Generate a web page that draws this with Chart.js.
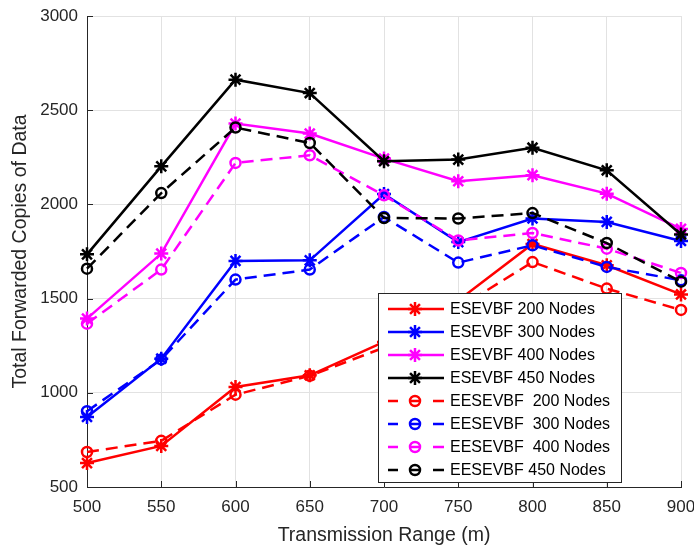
<!DOCTYPE html>
<html>
<head>
<meta charset="utf-8">
<script src="https://cdn.jsdelivr.net/npm/chart.js@4.4.0/dist/chart.umd.min.js"></script>
<style>
  body { margin: 0; background: #fff; }
  canvas { display: block; }
</style>
</head>
<body>
<canvas id="myChart" width="694" height="547"></canvas>
<script>
const FONT = "'Liberation Sans', Arial, sans-serif";
const AXIS_COLOR = '#262626';

const RANGES = ['500', '550', '600', '650', '700', '750', '800', '850', '900'];
const Y_TICKS = [500, 1000, 1500, 2000, 2500, 3000];

const ESEVBF_200 = [627, 718, 1031, 1093, 1270, 1490, 1790, 1677, 1522];
const ESEVBF_300 = [872, 1181, 1700, 1703, 2055, 1800, 1925, 1907, 1806];
const ESEVBF_400 = [1394, 1739, 2429, 2376, 2243, 2123, 2155, 2057, 1870];
const ESEVBF_450 = [1735, 2202, 2662, 2591, 2229, 2238, 2301, 2181, 1840];
const EESEVBF_200 = [686, 745, 990, 1090, 1240, 1450, 1694, 1553, 1440];
const EESEVBF_300 = [902, 1177, 1601, 1654, 1933, 1691, 1783, 1668, 1597];
const EESEVBF_400 = [1367, 1654, 2220, 2261, 2048, 1809, 1848, 1765, 1636];
const EESEVBF_450 = [1659, 2060, 2408, 2326, 1928, 1925, 1954, 1795, 1590];

function serie(label, data, color, dashed, i) {
    return {
        label: label,
        data: data,
        borderColor: color,
        backgroundColor: color,
        borderWidth: 2.5,
        borderDash: dashed ? [12, 7] : [],
        pointStyle: dashed ? 'circle' : 'star',
        pointRadius: dashed ? 5 : 7,
        pointBorderWidth: 2.5,
        pointBorderColor: color,
        pointBackgroundColor: 'rgba(0,0,0,0)',
        tension: 0,
        clip: false,
        order: 8 - i // later series on top, like matlab
    };
}

// inward tick marks, matlab style
const ticksHaciaDentro = {
    id: 'ticksHaciaDentro',
    afterDatasetsDraw(chart) {
        const c = chart.ctx;
        const area = chart.chartArea;
        const x = chart.scales.x, y = chart.scales.y;
        c.save();
        c.strokeStyle = AXIS_COLOR;
        c.lineWidth = 1;
        c.beginPath();
        for (let i = 0; i < RANGES.length; i++) {
            const px = Math.round(x.getPixelForValue(i)) + 0.5;
            c.moveTo(px, area.bottom);
            c.lineTo(px, area.bottom - 6);
        }
        Y_TICKS.forEach(function (v) {
            const py = Math.round(y.getPixelForValue(v)) + 0.5;
            c.moveTo(area.left, py);
            c.lineTo(area.left + 6, py);
        });
        c.stroke();
        c.restore();
    }
};

// legend box inside the plot, lower right
const leyenda = {
    id: 'leyenda',
    afterDraw(chart) {
        const c = chart.ctx;
        const box = { x: 378.5, y: 293.5, w: 243, h: 189 };
        c.save();
        c.fillStyle = '#ffffff';
        c.fillRect(box.x, box.y, box.w, box.h);
        c.strokeStyle = AXIS_COLOR;
        c.lineWidth = 1;
        c.strokeRect(box.x, box.y, box.w, box.h);

        chart.data.datasets.forEach(function (ds, i) {
            const cy = 309 + i * 23;
            c.strokeStyle = ds.borderColor;
            c.lineWidth = 2.5;
            c.beginPath();
            if (ds.borderDash.length) {
                c.moveTo(388, cy); c.lineTo(398, cy);
                c.moveTo(410, cy); c.lineTo(420, cy);
                c.moveTo(433, cy); c.lineTo(444, cy);
            } else {
                c.moveTo(388, cy); c.lineTo(444, cy);
            }
            c.stroke();
            c.lineWidth = 2.5;
            c.fillStyle = 'rgba(0,0,0,0)';
            Chart.helpers.drawPoint(c, {
                pointStyle: ds.pointStyle,
                radius: ds.pointRadius,
                borderWidth: 2.5,
                rotation: 0
            }, 415, cy);
            c.fillStyle = '#000000';
            c.font = '16px ' + FONT;
            c.textAlign = 'left';
            c.textBaseline = 'middle';
            c.fillText(ds.label, 450, cy + 1);
        });
        c.restore();
    }
};

var ctx = document.getElementById('myChart').getContext('2d');

var myChart = new Chart(ctx, {
    type: 'line',
    data: {
        labels: RANGES,
        datasets: [
            serie('ESEVBF 200 Nodes', ESEVBF_200, '#ff0000', false, 0),
            serie('ESEVBF 300 Nodes', ESEVBF_300, '#0000ff', false, 1),
            serie('ESEVBF 400 Nodes', ESEVBF_400, '#ff00ff', false, 2),
            serie('ESEVBF 450 Nodes', ESEVBF_450, '#000000', false, 3),
            serie('EESEVBF  200 Nodes', EESEVBF_200, '#ff0000', true, 4),
            serie('EESEVBF  300 Nodes', EESEVBF_300, '#0000ff', true, 5),
            serie('EESEVBF  400 Nodes', EESEVBF_400, '#ff00ff', true, 6),
            serie('EESEVBF 450 Nodes', EESEVBF_450, '#000000', true, 7)
        ]
    },
    options: {
        responsive: false,
        animation: false,
        layout: {
            padding: { top: 16, right: 13, left: 0, bottom: 0 }
        },
        plugins: {
            legend: { display: false },
            tooltip: { enabled: false }
        },
        scales: {
            x: {
                offset: false,
                afterFit(scale) {
                    scale.height = 60;
                    scale.paddingLeft = 0;
                    scale.paddingRight = 0;
                },
                ticks: {
                    color: AXIS_COLOR,
                    font: { family: FONT, size: 17 },
                    padding: 10,
                    maxRotation: 0
                },
                grid: {
                    color: '#e2e2e2',
                    lineWidth: 1,
                    drawTicks: false
                },
                border: { display: true, color: AXIS_COLOR, width: 1 },
                title: {
                    display: true,
                    text: 'Transmission Range (m)',
                    color: AXIS_COLOR,
                    font: { family: FONT, size: 19.5 },
                    padding: { top: 0, bottom: 0 }
                }
            },
            y: {
                min: 500,
                max: 3000,
                afterFit(scale) {
                    scale.width = 87;
                    scale.paddingTop = 0;
                    scale.paddingBottom = 0;
                },
                afterBuildTicks(scale) {
                    scale.ticks = Y_TICKS.map(function (v) { return { value: v }; });
                },
                ticks: {
                    color: AXIS_COLOR,
                    font: { family: FONT, size: 17 },
                    padding: 9,
                    callback: function (v) { return String(v); }
                },
                grid: {
                    color: '#e2e2e2',
                    lineWidth: 1,
                    drawTicks: false
                },
                border: { display: true, color: AXIS_COLOR, width: 1 },
                title: {
                    display: true,
                    text: 'Total Forwarded Copies of Data',
                    color: AXIS_COLOR,
                    font: { family: FONT, size: 19.5 },
                    padding: { top: 9, bottom: 0 }
                }
            }
        }
    },
    plugins: [ticksHaciaDentro, leyenda]
});
</script>
</body>
</html>
